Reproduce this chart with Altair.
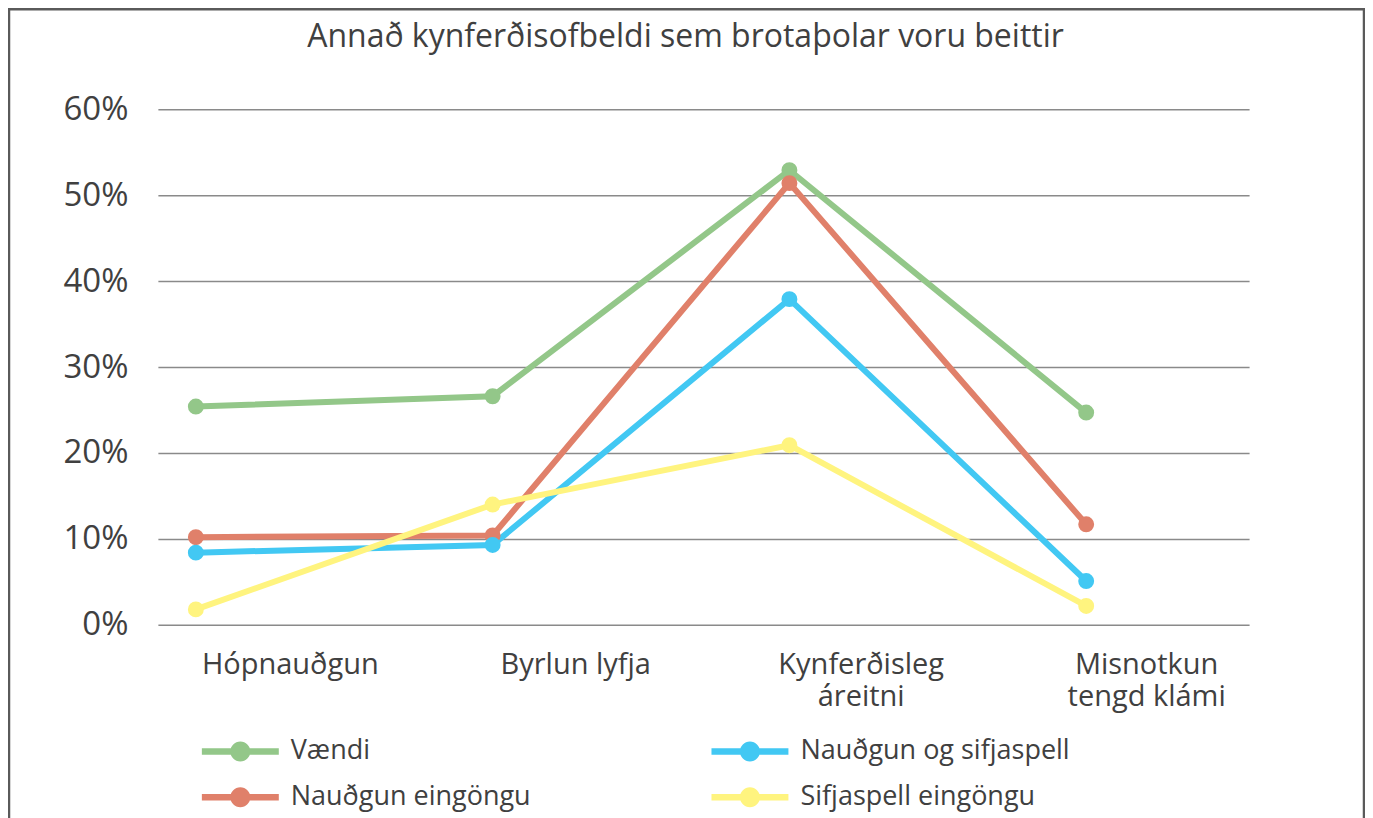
import altair as alt
import pandas as pd

# ---- data ----
categories = ["Hópnauðgun", "Byrlun lyfja", "Kynferðisleg|áreitni", "Misnotkun|tengd klámi"]
series_legend_order = ["Vændi", "Nauðgun og sifjaspell", "Nauðgun eingöngu", "Sifjaspell eingöngu"]
series_draw_order = ["Vændi", "Nauðgun eingöngu", "Nauðgun og sifjaspell", "Sifjaspell eingöngu"]
series_colors = ["#93C789", "#42C8F3", "#E0806A", "#FFF47F"]

vaendi = [25.4, 26.6, 52.9, 24.7]
naudgun_og_sifjaspell = [8.4, 9.3, 37.9, 5.1]
naudgun_eingongu = [10.2, 10.4, 51.4, 11.7]
sifjaspell_eingongu = [1.8, 14.0, 20.9, 2.2]

y_ticks = [0, 10, 20, 30, 40, 50, 60]

values_by_series = {
    "Vændi": vaendi,
    "Nauðgun og sifjaspell": naudgun_og_sifjaspell,
    "Nauðgun eingöngu": naudgun_eingongu,
    "Sifjaspell eingöngu": sifjaspell_eingongu,
}

rows = []
for s in series_draw_order:
    for c, v in zip(categories, values_by_series[s]):
        rows.append({"flokkur": c, "hopur": s, "gildi": v})
df = pd.DataFrame(rows)

FONT = "Open Sans"
TXT = "#404040"
W, H = 1092, 516
PAD = {"left": 150, "top": 101, "right": 116, "bottom": 196}

x_enc = alt.X(
    "flokkur:N",
    sort=categories,
    scale=alt.Scale(type="point", padding=0.3384, align=0.189),
    axis=alt.Axis(
        title=None,
        labelExpr="split(datum.label, '|')",
        labelAngle=0,
        domain=False,
        ticks=False,
        grid=False,
        labelFont=FONT,
        labelFontSize=29,
        labelColor=TXT,
        labelPadding=26,
        labelLineHeight=32,
        labelBaseline="top",
        labelOffset={"expr": "94 - 34 * datum.index"},
    ),
)
y_enc = alt.Y(
    "gildi:Q",
    scale=alt.Scale(domain=[0, 60], nice=False),
    axis=alt.Axis(
        title=None,
        values=y_ticks,
        labelExpr="datum.value + '%'",
        domain=False,
        ticks=False,
        grid=True,
        gridColor="#8a8a8a",
        gridWidth=1.5,
        labelFont=FONT,
        labelFontSize=33,
        labelColor=TXT,
        labelPadding=30,
    ),
)
color_scale = alt.Scale(domain=series_legend_order, range=series_colors)

legend_symbol = (
    "M-3.85,-0.32 L3.85,-0.32 L3.85,0.32 L-3.85,0.32 Z "
    "M-1,0 A1,1 0 1,1 1,0 A1,1 0 1,1 -1,0 Z"
)
legend = alt.Legend(
    title=None,
    orient="none",
    legendX=69,
    legendY=629,
    direction="horizontal",
    columns=2,
    padding=0,
    symbolType=legend_symbol,
    symbolSize=400,
    symbolStrokeWidth=0,
    symbolOpacity=1,
    labelFont=FONT,
    labelFontSize=27,
    labelColor=TXT,
    labelOffset=37,
    columnPadding=180,
    rowPadding=18,
    labelLimit=0,
)

lines = alt.Chart(df).mark_line(strokeWidth=6).encode(
    x=x_enc,
    y=y_enc,
    color=alt.Color("hopur:N", scale=color_scale, sort=series_legend_order, legend=legend),
    detail="hopur:N",
)

points = alt.Chart(df).mark_point(filled=True, size=254, opacity=1).encode(
    x=x_enc,
    y=y_enc,
    color=alt.Color("hopur:N", scale=color_scale, sort=series_legend_order, legend=legend),
)

frame_df = pd.DataFrame({"k": [0]})
frame = alt.Chart(frame_df).mark_rect(
    fillOpacity=0, stroke="#5a5a5a", strokeWidth=2.5
).encode(
    x=alt.value(-149),
    x2=alt.value(W + PAD["right"] - 1),
    y=alt.value(-100),
    y2=alt.value(H + PAD["bottom"] + 40),
)

chart = (
    alt.layer(frame, lines, points)
    .properties(
        width=W,
        height=H,
        autosize=alt.AutoSizeParams(type="none"),
        padding=PAD,
        background="white",
        title=alt.TitleParams(
            "Annað kynferðisofbeldi sem brotaþolar voru beittir",
            font=FONT,
            fontSize=32,
            fontWeight="normal",
            color=TXT,
            anchor="middle",
            baseline="alphabetic",
            dx=-18,
            dy=71,
            offset=0,
        ),
    )
    .configure_view(stroke=None)
)

chart.save("out.html", embed_options={"renderer": "svg", "actions": False})
